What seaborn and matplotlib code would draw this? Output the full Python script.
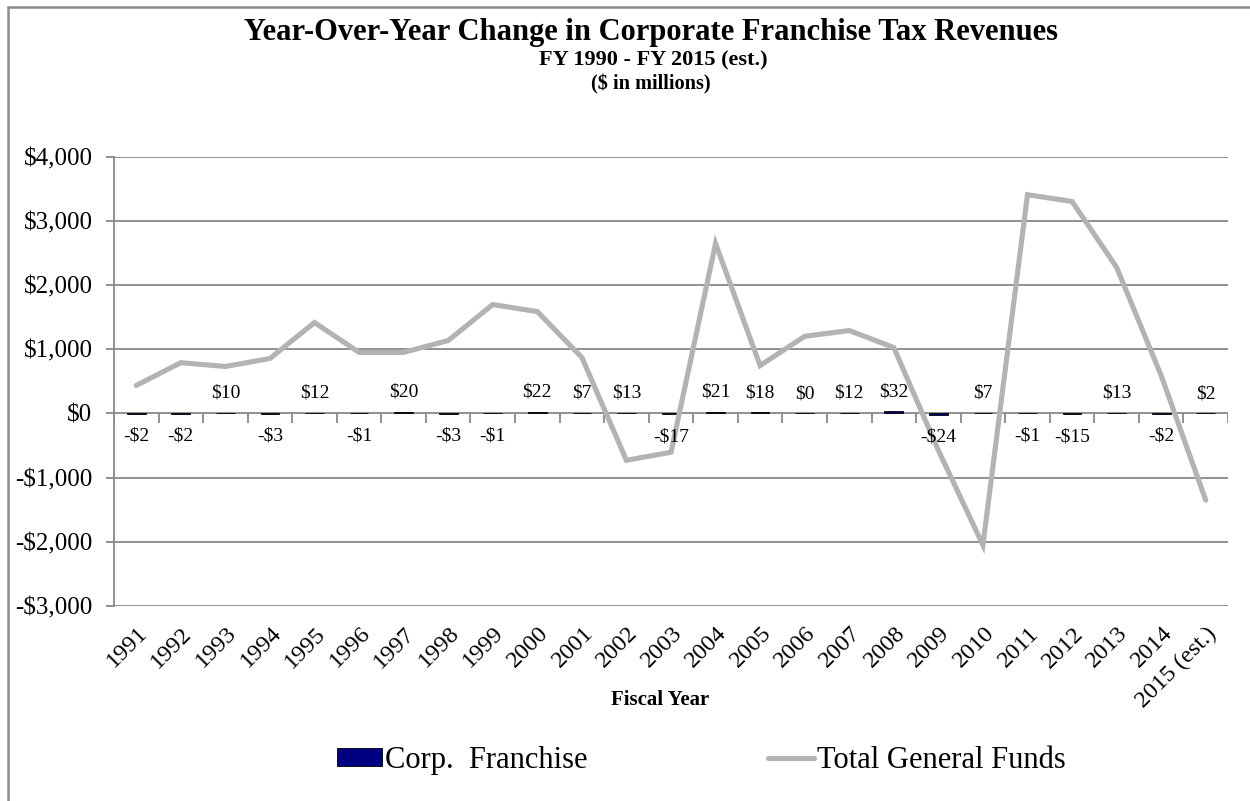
import numpy as np
import pandas as pd
import matplotlib
matplotlib.use("Agg")
import matplotlib.pyplot as plt
import matplotlib.transforms as mtransforms
from matplotlib.patches import Rectangle, Patch
from matplotlib.lines import Line2D
import seaborn as sns

# Fiscal years and year-over-year changes ($ millions)
years = ["1991", "1992", "1993", "1994", "1995", "1996", "1997", "1998", "1999",
         "2000", "2001", "2002", "2003", "2004", "2005", "2006", "2007", "2008",
         "2009", "2010", "2011", "2012", "2013", "2014", "2015 (est.)"]
corp_franchise = [-2, -2, 10, -3, 12, -1, 20, -3, -1, 22, 7, 13, -17, 21, 18, 0,
                  12, 32, -24, 7, -1, -15, 13, -2, 2]
total_general_funds = [435, 790, 730, 855, 1415, 950, 950, 1135, 1695, 1585, 870,
                       -730, -605, 2645, 745, 1200, 1290, 1025, -575, -2050, 3405,
                       3300, 2275, 590, -1350]
y_ticks = [-3000, -2000, -1000, 0, 1000, 2000, 3000, 4000]

sns.set_theme(style="white")
plt.rcParams["font.family"] = ["Liberation Serif", "DejaVu Serif"]
plt.rcParams.update({"text.color": "black", "xtick.labelcolor": "black",
                     "ytick.labelcolor": "black"})

df = pd.DataFrame({"year": years, "corp": corp_franchise,
                   "pos": np.arange(len(years)), "total": total_general_funds})

fig = plt.figure(figsize=(12.5, 8.01), dpi=100)
ax = fig.add_axes([0.0912, 0.2434, 0.8912, 0.5612])

grid_c = "#888888"
line_c = "#b3b3b3"
for v in y_ticks:
    ax.axhline(v, color=grid_c, lw=1.3, zorder=0)

sns.barplot(data=df, x="year", y="corp", ax=ax, color="#000080", width=0.42,
            saturation=1, edgecolor="black", linewidth=0.6, zorder=2)
sns.lineplot(data=df, x="pos", y="total", ax=ax, color=line_c, lw=3.7,
             zorder=3, solid_joinstyle="miter")

# value labels for corporate franchise bars
for i, v in enumerate(corp_franchise):
    if v >= 0:
        ax.annotate(f"${v}", (i, v), xytext=(0, 8), textcoords="offset points",
                    ha="center", va="bottom", fontsize=14)
    else:
        ax.annotate(f"-${abs(v)}", (i, v), xytext=(0, -10), textcoords="offset points",
                    ha="center", va="top", fontsize=14)

# category boundary ticks on the zero line
ax.vlines(np.arange(len(years) + 1) - 0.5, 0, -150, color=grid_c, lw=1.3, zorder=1)

ax.set_xlim(-0.5, len(years) - 0.5)
ax.set_ylim(-3000, 4000)
ax.set_yticks(y_ticks)
ax.set_yticklabels([f"-${abs(v):,}" if v < 0 else f"${v:,}" for v in y_ticks],
                   fontsize=18)
ax.tick_params(axis="y", length=6, width=1.3, color=grid_c, pad=9.5, left=True)
ax.set_xticks(np.arange(len(years)))
ax.set_xticklabels(years, rotation=45, ha="right", va="center",
                   rotation_mode="anchor", fontsize=17.5)
ax.tick_params(axis="x", length=0, pad=16)
shift = mtransforms.ScaledTranslation(8 / 100, -2 / 100, fig.dpi_scale_trans)
for lbl in ax.get_xticklabels():
    lbl.set_transform(lbl.get_transform() + shift)
ax.set_xlabel("")
ax.set_ylabel("")
for s in ["top", "right", "bottom"]:
    ax.spines[s].set_visible(False)
ax.spines["left"].set_color(grid_c)
ax.spines["left"].set_linewidth(1.3)

fig.text(0.521, 0.960, "Year-Over-Year Change in Corporate Franchise Tax Revenues",
         ha="center", va="center", fontsize=22, fontweight="bold")
fig.text(0.523, 0.925, "FY 1990 - FY 2015 (est.)", ha="center", va="center",
         fontsize=16, fontweight="bold")
fig.text(0.521, 0.895, "($ in millions)", ha="center", va="center",
         fontsize=14.6, fontweight="bold")
fig.text(0.528, 0.126, "Fiscal Year", ha="center", va="center",
         fontsize=15, fontweight="bold")

handles = [Patch(facecolor="#000080", edgecolor="black", lw=0.6),
           Line2D([], [], color=line_c, lw=3.7)]
fig.legend(handles, ["Corp.  Franchise", "Total General Funds"], loc="center",
           bbox_to_anchor=(0.561, 0.051), ncol=2, frameon=False, fontsize=22,
           handlelength=1.5, handleheight=0.55, handletextpad=0.1, columnspacing=5.9)

# outer chart frame
fig.patches.append(Rectangle((8 / 1250, -0.05), 1.2, 1 - 7 / 801 + 0.05,
                             transform=fig.transFigure, fill=False,
                             edgecolor="#8a8a8a", lw=1.8))

fig.savefig("out.png", dpi=100)
